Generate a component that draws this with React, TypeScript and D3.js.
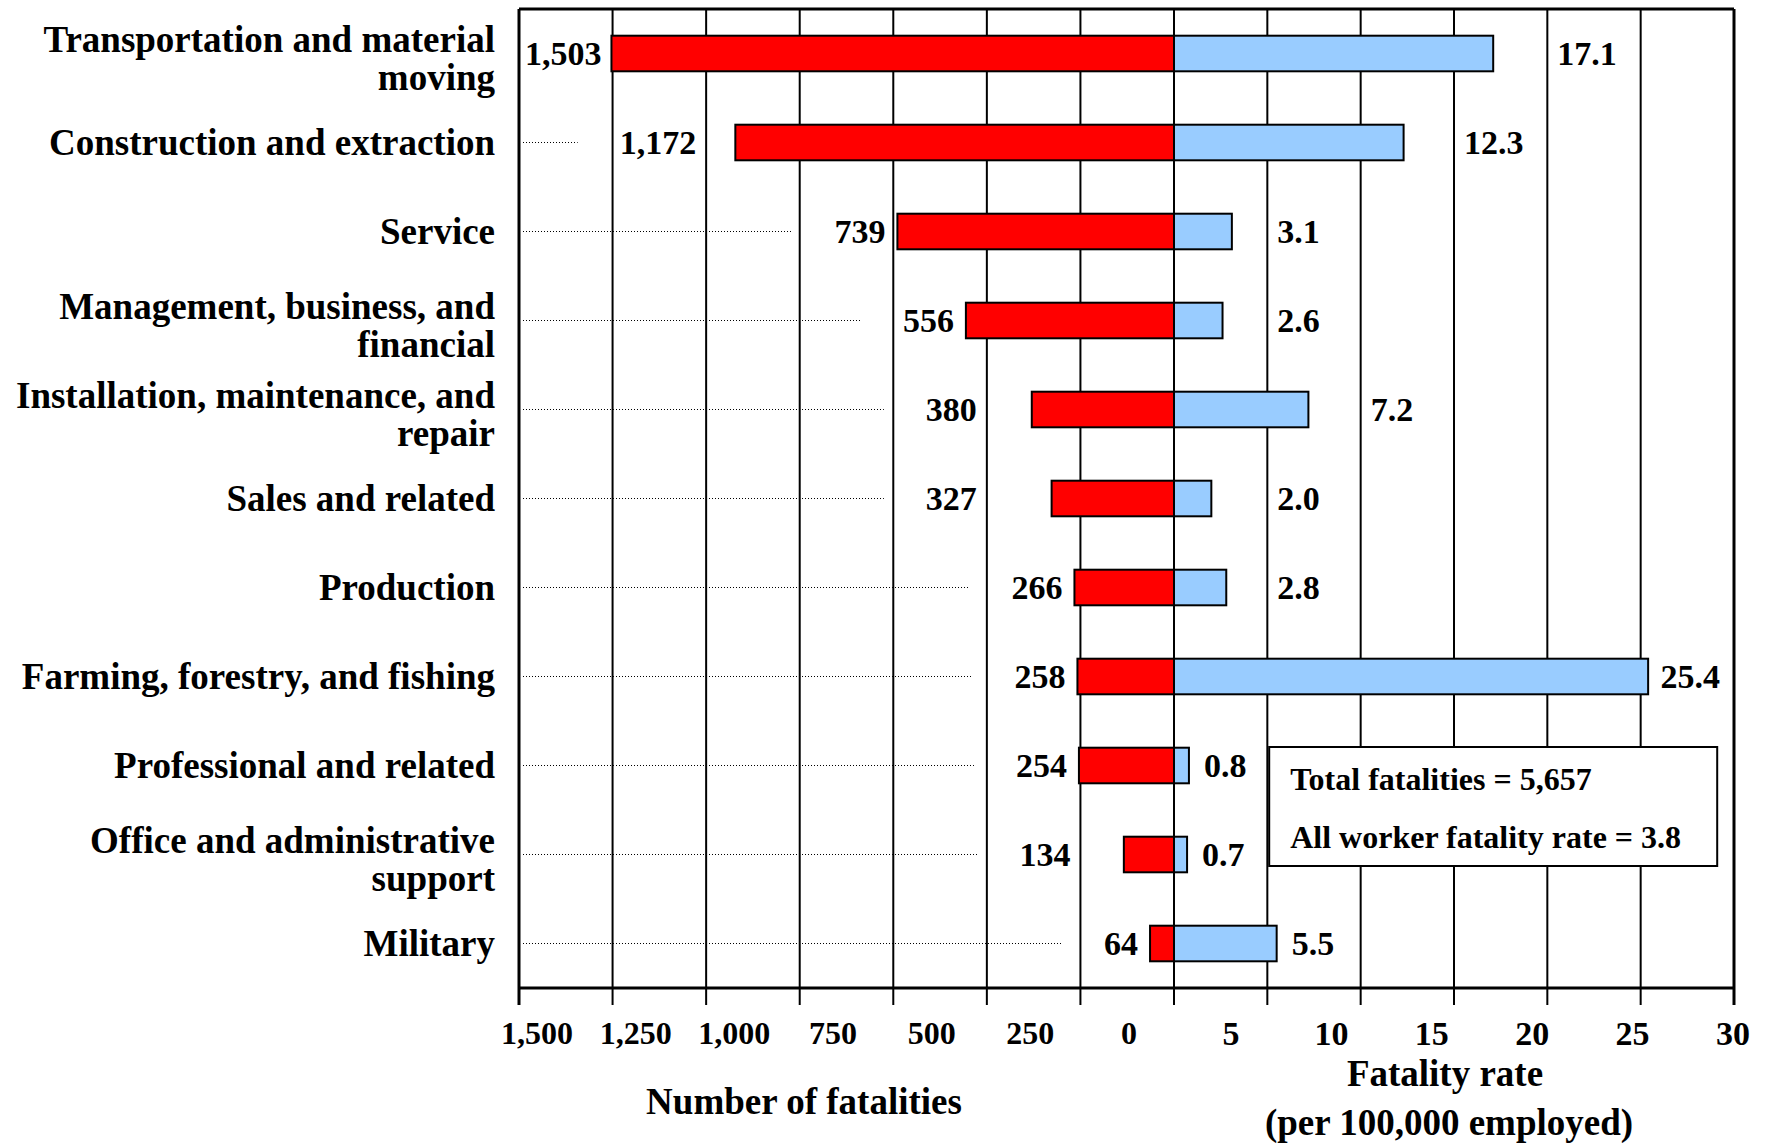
import React from 'react';
import * as d3 from 'd3';

const categories = [
  'Transportation and material\nmoving',
  'Construction and extraction',
  'Service',
  'Management, business, and\nfinancial',
  'Installation, maintenance, and\nrepair',
  'Sales and related',
  'Production',
  'Farming, forestry, and fishing',
  'Professional and related',
  'Office and administrative\nsupport',
  'Military',
];
const fatalities = [1503, 1172, 739, 556, 380, 327, 266, 258, 254, 134, 64];
const fatalityRates = [17.1, 12.3, 3.1, 2.6, 7.2, 2.0, 2.8, 25.4, 0.8, 0.7, 5.5];
const fatalityTicks = [1500, 1250, 1000, 750, 500, 250, 0];
const fatalityGrid = [1750, 1500, 1250, 1000, 750, 500, 250, 0];
const rateTicks = [5, 10, 15, 20, 25, 30];
const summaryLines = ['Total fatalities = 5,657', 'All worker fatality rate = 3.8'];
const fatalityTitle = 'Number of fatalities';
const rateTitle = ['Fatality rate', '(per 100,000 employed)'];

const W = 1765;
const H = 1143;
const FONT = "'Liberation Serif', 'Times New Roman', serif";

export default function App() {
  const left = 519;
  const zero = 1174;
  const right = 1734;
  const top = 9;
  const bottom = 988;
  const tickLen = 17;

  const xF = d3.scaleLinear().domain([0, 1750]).range([zero, left]);
  const xR = d3.scaleLinear().domain([0, 30]).range([zero, right]);
  const xFLabel = d3.scaleLinear().domain([0, 1500]).range([1129, 537]);
  const xRLabel = d3.scaleLinear().domain([5, 30]).range([1231, 1733]);
  const y = d3
    .scaleBand<string>()
    .domain(categories)
    .range([top, bottom])
    .paddingInner(0.6)
    .paddingOuter(0.3);
  const bw = y.bandwidth();
  const fmt = d3.format(',');
  const fmtR = d3.format('.1f');

  const valFont = 34;
  const redGap = 12;
  const blueGap = 15;
  const textW = (s: string, fs: number) =>
    s.split('').reduce((a, c) => a + (c === ',' || c === '.' ? 0.25 : 0.5), 0) * fs;

  const gridXs = [...fatalityGrid.map((g) => xF(g)), ...rateTicks.map((g) => xR(g))].sort((a, b) => a - b);

  const boxX0 = xR(5.1);
  const boxX1 = xR(29.1);
  const boxY0 = 747;
  const boxY1 = 866;

  // label right end for red bars, nudged to sit between gridlines
  const redEnd = (v: number) => {
    const w = textW(fmt(v), valFont);
    let end = Math.max(xF(v) - redGap, left + 6 + w);
    for (let k = 0; k < 3; k++) {
      const hit = gridXs.find((g) => g > end - w - 4 && g < end + 4);
      if (hit === undefined) break;
      end = hit - 10;
    }
    return end;
  };
  // label start for blue bars, nudged to sit between gridlines
  const blueStart = (r: number, cy: number) => {
    const w = textW(fmtR(r), valFont);
    let x = xR(r) + blueGap;
    for (let k = 0; k < 3; k++) {
      const hit = gridXs.find((g) => g > x - 4 && g < x + w + 4);
      if (hit === undefined) break;
      x = hit + 10;
    }
    x = Math.min(x, right - 14 - w);
    if (cy > boxY0 && cy < boxY1) x = Math.max(xR(r) + 8, Math.min(x, boxX0 - 14 - w));
    return x;
  };

  return (
    <svg
      width={W}
      height={H}
      viewBox={`0 0 ${W} ${H}`}
      style={{ position: 'absolute', left: 0, top: 0, display: 'block', background: '#fff' }}
      fontFamily={FONT}
      fontWeight="bold"
    >
      <rect x={0} y={0} width={W} height={H} fill="#fff" />
      {/* gridlines and ticks */}
      {fatalityGrid.map((g) => (
        <line key={'gf' + g} x1={xF(g)} x2={xF(g)} y1={top} y2={bottom + tickLen} stroke="#000" strokeWidth={g === 1750 ? 3 : 2} />
      ))}
      {rateTicks.map((g) => (
        <line key={'gr' + g} x1={xR(g)} x2={xR(g)} y1={top} y2={bottom + tickLen} stroke="#000" strokeWidth={g === 30 ? 3 : 2} />
      ))}
      <line x1={left} x2={right} y1={top} y2={top} stroke="#000" strokeWidth={3} />
      <line x1={left} x2={right} y1={bottom} y2={bottom} stroke="#000" strokeWidth={3} />

      {/* dotted leaders */}
      {categories.map((c, i) => {
        const s = fmt(fatalities[i]);
        const end = redEnd(fatalities[i]) - textW(s, valFont) - 42;
        const st = left + 4;
        if (end <= st) return null;
        const cy = (y(c) as number) + bw / 2;
        return <line key={'d' + i} x1={st} x2={end} y1={cy} y2={cy} stroke="#000" strokeWidth={1.2} strokeDasharray="1 2" />;
      })}

      {/* bars */}
      {categories.map((c, i) => (
        <g key={'b' + i}>
          <rect x={xF(fatalities[i])} y={y(c)} width={zero - xF(fatalities[i])} height={bw} fill="#FF0000" stroke="#000" strokeWidth={2} />
          <rect x={zero} y={y(c)} width={xR(fatalityRates[i]) - zero} height={bw} fill="#99CCFF" stroke="#000" strokeWidth={2} />
        </g>
      ))}

      {/* summary box */}
      <rect x={boxX0} y={boxY0} width={boxX1 - boxX0} height={boxY1 - boxY0} fill="#fff" stroke="#000" strokeWidth={2} />
      {summaryLines.map((s, i) => (
        <text key={'s' + i} x={boxX0 + 21} y={779 + i * 58} dy="0.35em" fontSize={32}>{s}</text>
      ))}

      {/* value labels */}
      {categories.map((c, i) => {
        const cy = (y(c) as number) + bw / 2;
        return (
          <g key={'v' + i} fontSize={valFont}>
            <text x={redEnd(fatalities[i])} y={cy} dy="0.35em" textAnchor="end">{fmt(fatalities[i])}</text>
            <text x={blueStart(fatalityRates[i], cy)} y={cy} dy="0.35em" textAnchor="start">{fmtR(fatalityRates[i])}</text>
          </g>
        );
      })}

      {/* category labels */}
      {categories.map((c, i) => {
        const cy = (y(c) as number) + bw / 2;
        const lines = c.split('\n');
        const offs = lines.length === 1 ? [0] : [-14, 24];
        return (
          <text key={'c' + i} fontSize={37} textAnchor="end">
            {lines.map((l, j) => (
              <tspan key={j} x={495} y={cy + offs[j]} dy="0.35em">{l}</tspan>
            ))}
          </text>
        );
      })}

      {/* tick labels */}
      {fatalityTicks.map((t) => (
        <text key={'tf' + t} x={xFLabel(t)} y={1033} dy="0.35em" textAnchor="middle" fontSize={32}>{fmt(t)}</text>
      ))}
      {rateTicks.map((t) => (
        <text key={'tr' + t} x={xRLabel(t)} y={1033} dy="0.35em" textAnchor="middle" fontSize={34}>{t}</text>
      ))}

      {/* axis titles */}
      <text x={804} y={1101} dy="0.35em" textAnchor="middle" fontSize={37}>{fatalityTitle}</text>
      <text x={1445} y={1073} dy="0.35em" textAnchor="middle" fontSize={37}>{rateTitle[0]}</text>
      <text x={1449} y={1122} dy="0.35em" textAnchor="middle" fontSize={37}>{rateTitle[1]}</text>
    </svg>
  );
}
